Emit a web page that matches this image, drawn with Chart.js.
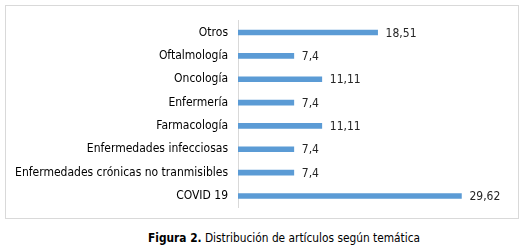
<!DOCTYPE html>
<html>
<head>
<meta charset="utf-8">
<script src="https://cdn.jsdelivr.net/npm/chart.js@4"></script>
<style>
  html, body { margin: 0; padding: 0; background: #fff; width: 526px; height: 248px; overflow: hidden; }
  #box { position: absolute; left: 5px; top: 5px; width: 512px; height: 212px; border: 1px solid #d9d9d9; }
  #box canvas { display: block; }
  #caption { position: absolute; left: 148px; top: 231px; white-space: nowrap; font-family: "DejaVu Sans Condensed", "DejaVu Sans", sans-serif; font-size: 11.8px; line-height: 14px; color: #000; }
  #caption b { font-weight: bold; }
</style>
</head>
<body>
<div id="box"><canvas id="c" width="512" height="212"></canvas></div>
<div id="caption"><b>Figura 2.</b> Distribución de artículos según temática</div>
<script>
const categories = ["Otros", "Oftalmología", "Oncología", "Enfermería", "Farmacología", "Enfermedades infecciosas", "Enfermedades crónicas no tranmisibles", "COVID 19"];
const values = [18.51, 7.4, 11.11, 7.4, 11.11, 7.4, 7.4, 29.62];
const valueLabels = ["18,51", "7,4", "11,11", "7,4", "11,11", "7,4", "7,4", "29,62"];
const axisMax = 35;

const valueLabelPlugin = {
  id: 'valueLabels',
  afterDatasetsDraw(chart) {
    const ctx = chart.ctx;
    const meta = chart.getDatasetMeta(0);
    ctx.save();
    ctx.font = '12px "DejaVu Sans Condensed", "DejaVu Sans", sans-serif';
    ctx.fillStyle = '#262626';
    ctx.textAlign = 'left';
    ctx.textBaseline = 'middle';
    meta.data.forEach((bar, i) => {
      ctx.fillText(valueLabels[i], bar.x + 8, bar.y + 1);
    });
    ctx.restore();
  }
};

new Chart(document.getElementById('c'), {
  type: 'bar',
  data: {
    labels: categories,
    datasets: [{
      data: values,
      backgroundColor: '#5b9bd5',
      barThickness: 5
    }]
  },
  options: {
    indexAxis: 'y',
    responsive: false,
    animation: false,
    layout: { padding: { left: 0, right: 16, top: 14.8, bottom: 10.3 } },
    plugins: { legend: { display: false }, tooltip: { enabled: false } },
    scales: {
      x: { display: false, min: 0, max: axisMax },
      y: {
        grid: { display: false, drawTicks: false },
        border: { display: true, color: '#d9d9d9', width: 1 },
        ticks: {
          color: '#000',
          padding: 10,
          font: { family: '"DejaVu Sans Condensed", "DejaVu Sans", sans-serif', size: 12 }
        },
        afterFit(scale) {
          scale.width = 232;
          scale.paddingTop = 0;
          scale.paddingBottom = 0;
        }
      }
    }
  },
  plugins: [valueLabelPlugin]
});
</script>
</body>
</html>
